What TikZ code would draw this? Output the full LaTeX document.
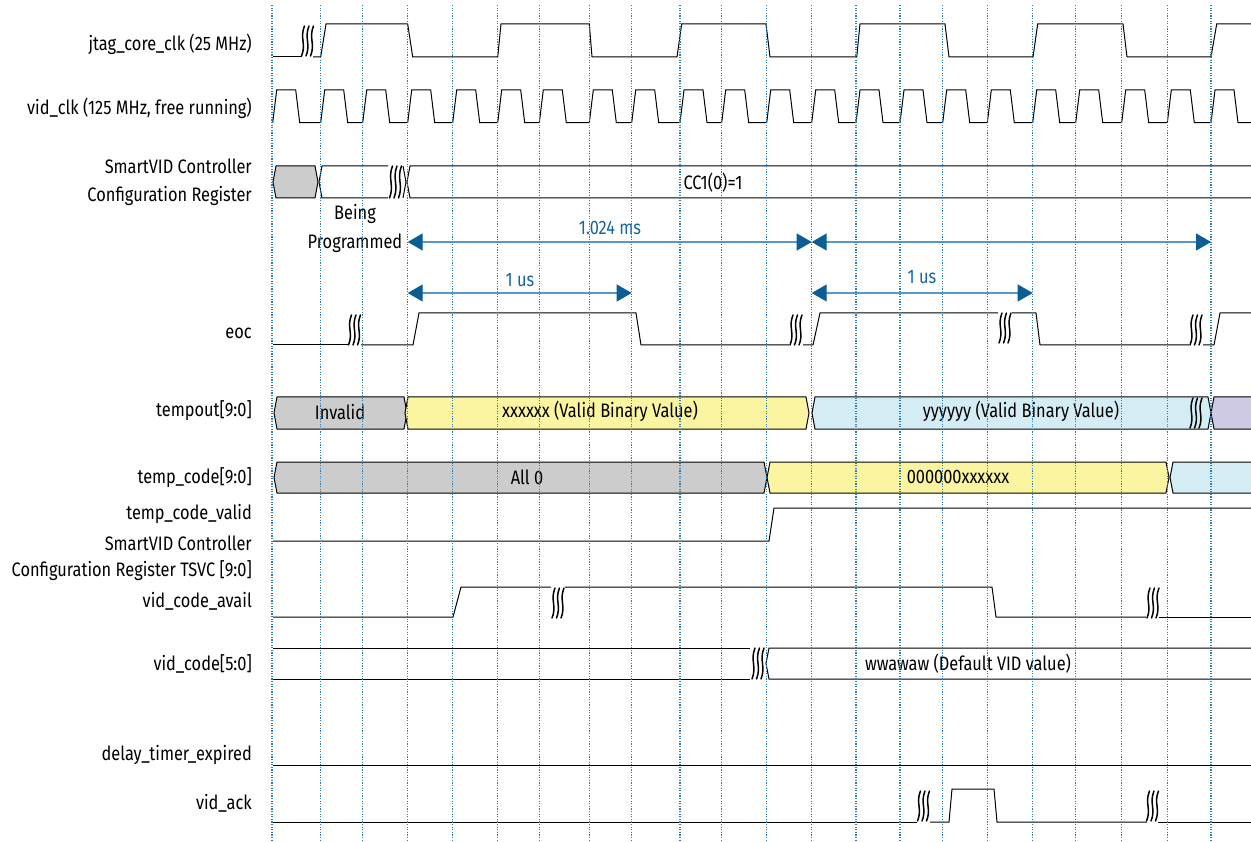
\documentclass[tikz,border=0pt]{standalone}
\usepackage{fontspec}
\setmainfont{Fira Sans}[FakeStretch=0.84]
\usetikzlibrary{arrows.meta}
\definecolor{gridblue}{HTML}{2E7DB3}
\definecolor{dimline}{HTML}{5A98C6}
\definecolor{dimhead}{HTML}{0B5E94}
\definecolor{dimtext}{HTML}{1565A0}
\definecolor{busgray}{HTML}{CCCCCC}
\definecolor{busyellow}{HTML}{FBF4A0}
\definecolor{busblue}{HTML}{D4EDF5}
\definecolor{buslav}{HTML}{CECAE6}
\tikzset{
 sig/.style={draw=black, line width=1pt, line join=miter},
 lbl/.style={anchor=east, inner sep=0pt, align=right, font=\fontsize{19.5}{28}\selectfont},
 txt/.style={inner sep=0pt, align=center, font=\fontsize{19.5}{29}\selectfont},
 dimarrow/.style={draw=dimline, line width=1.2pt, {Triangle[length=15pt,width=17pt,color=dimhead]}-{Triangle[length=15pt,width=17pt,color=dimhead]}},
 dimtxt/.style={txt, text=dimtext},
 gridl/.style={draw=gridblue, line width=1.3pt, dash pattern=on 1.3pt off 1.3pt},
 brkstroke/.style={draw=black, line width=1.5pt, line cap=round},
}
\newcommand\busseg[5]{\filldraw[sig, fill=#5] (#1,{(#3+#4)/2}) -- (#1+3,#3) -- (#2-3,#3) -- (#2,{(#3+#4)/2}) -- (#2-3,#4) -- (#1+3,#4) -- cycle;}
\newcommand\brk[3]{%
 \foreach \bo in {-4.5,0,4.5}{%
  \draw[brkstroke] ({#1+\bo+1.5},#2) .. controls ({#1+\bo-3.5},{#2+0.4*(#3-#2)}) and ({#1+\bo+3.5},{#2+0.6*(#3-#2)}) .. ({#1+\bo-1.5},#3);}}
\begin{document}
\begin{tikzpicture}[x=1pt,y=-1pt]
\useasboundingbox (0,0) rectangle (1251,842);
\clip (0,0) rectangle (1251,842);
% labels
\node[lbl] (l1) at (252,44) {jtag\_core\_clk (25 MHz)};
\node[lbl] (l2) at (252,108) {vid\_clk (125 MHz, free running)};
\node[lbl] (l3) at (252,182) {SmartVID Controller\\Configuration Register};
\node[lbl] (l4) at (252,333) {eoc};
\node[lbl] (l5) at (252,411) {tempout[9:0]};
\node[lbl] (l6) at (252,478) {temp\_code[9:0]};
\node[lbl] (l7) at (252,514) {temp\_code\_valid};
\node[lbl] (l8) at (252,543) {SmartVID Controller};
\node[lbl] (l9) at (252,571) {Configuration Register TSVC [9:0]};
\node[lbl] (l10) at (252,601) {vid\_code\_avail};
\node[lbl] (l11) at (252,664) {vid\_code[5:0]};
\node[lbl] (l12) at (252,755) {delay\_timer\_expired};
\node[lbl] (l13) at (252,803) {vid\_ack};
% jtag_core_clk
\draw[sig] (273,57) -- (302,57);
\draw[sig] (313,57) -- (320.7,57) -- (326,24) -- (407.7,24) -- (412.7,57) -- (497.7,57) -- (501,24) -- (589.3,24) -- (592,57) -- (677,57) -- (681.7,24) -- (766,24) -- (770,57) -- (856.7,57) -- (860,24) -- (945,24) -- (949,57) -- (1033,57) -- (1037.7,24) -- (1123,24) -- (1127,57) -- (1211,57) -- (1216.7,24) -- (1251,24);
\brk{307.5}{26}{56}
% vid_clk
\foreach \a/\b in {272.7/320.7, 320.7/362.7, 362.7/407.7, 407.7/452.7, 452.7/497.7, 497.7/539.3, 539.3/589.3, 589.3/631.7, 631.7/680, 680/721.7, 721.7/766.7, 766.7/811.7, 811.7/856, 856/900, 900/942.7, 942.7/987.3, 987.3/1032.7, 1032.7/1075.7, 1075.7/1121.7, 1121.7/1167.3, 1167.3/1211, 1211/1251}
  \draw[sig] (\a,122.7) -- (\a+4,90) -- (\a+23,90) -- (\a+27,122.7) -- (\b,122.7);
% configuration register
\busseg{273}{318}{166}{198}{busgray}
\draw[sig] (388,166) -- (322,166) -- (319,182) -- (322,198) -- (388,198);
\draw[sig] (403,166) -- (406,182) -- (403,198);
\draw[sig] (1251,166) -- (410,166) -- (407,182) -- (410,198) -- (1251,198);
\brk{395.5}{166}{198}
\node[txt] (cc) at (713,183) {CC1(0)=1};
\node[txt] (bp) at (355,228) {Being\\Programmed};
% dimension arrows
\coordinate (a1) at (407.7,242);
\coordinate (a2) at (811.7,242);
\coordinate (a3) at (1211,242);
\coordinate (b1) at (407.7,293);
\coordinate (b2) at (631.7,293);
\coordinate (b3) at (811.7,293);
\coordinate (b4) at (1032.7,293);
\draw[dimarrow] (a1) -- (a2);
\draw[dimarrow] (a2) -- (a3);
\draw[dimarrow] (b1) -- (b2);
\draw[dimarrow] (b3) -- (b4);
\node[dimtxt] (d1) at (610,228) {1.024 ms};
\node[dimtxt] (d2) at (520,280) {1 us};
\node[dimtxt] (d3) at (922,277) {1 us};
% eoc
\draw[sig] (273,345) -- (348,345);
\draw[sig] (361,345) -- (413,345) -- (419,313) -- (636,313) -- (641,345) -- (789,345);
\draw[sig] (803,345) -- (813,345) -- (820,313) -- (998,313);
\draw[sig] (1012,313) -- (1036,313) -- (1040,345) -- (1189,345);
\draw[sig] (1203,345) -- (1214,345) -- (1220,313) -- (1251,313);
\brk{354.5}{315}{345}
\brk{796}{315}{345}
\brk{1005}{313}{343}
\brk{1196}{315}{345}
% tempout
\busseg{274}{407}{397}{429}{busgray}
\busseg{405}{809}{397}{429}{busyellow}
\busseg{812}{1211}{397}{429}{busblue}
\busseg{1211}{1262}{397}{429}{buslav}
\brk{1196}{398}{428}
\node[txt] (t1) at (340,412) {Invalid};
\node[txt] (t2) at (600,411) {xxxxxx (Valid Binary Value)};
\node[txt] (t3) at (1021,411) {yyyyyy (Valid Binary Value)};
% temp_code
\busseg{274}{767}{462}{493}{busgray}
\busseg{767}{1169}{462}{493}{busyellow}
\busseg{1170}{1262}{462}{493}{busblue}
\node[txt] (c1) at (527,477) {All 0};
\node[txt] (c2) at (958,477) {000000xxxxxx};
% temp_code_valid
\draw[sig] (273,541) -- (769,541) -- (774,508) -- (1251,508);
% vid_code_avail
\draw[sig] (273,617) -- (453,617) -- (461,587) -- (551,587);
\draw[sig] (565,587) -- (992,587) -- (996,617) -- (1146,617);
\draw[sig] (1159,617) -- (1251,617);
\brk{558}{588}{618}
\brk{1153}{588}{618}
% vid_code
\draw[sig] (273,648) -- (750,648);
\draw[sig] (273,679) -- (750,679);
\draw[sig] (1251,648) -- (769,648) -- (766,663.5) -- (769,679) -- (1251,679);
\brk{758}{648}{679}
\node[txt] (v1) at (968,664) {wwawaw (Default VID value)};
% delay_timer_expired
\draw[sig] (273,765) -- (1251,765);
% vid_ack
\draw[sig] (273,822) -- (917,822);
\draw[sig] (930,822) -- (949,822) -- (952,789) -- (994,789) -- (997,822) -- (1147,822);
\draw[sig] (1158,822) -- (1251,822);
\brk{923.5}{791}{821}
\brk{1152.5}{791}{821}
% grid
\foreach \gx in {272.7, 320.7, 362.7, 407.7, 452.7, 497.7, 539.3, 589.3, 631.7, 680, 721.7, 766.7, 811.7, 856, 900, 942.7, 987.3, 1032.7, 1075.7, 1121.7, 1167.3, 1211}
  \draw[gridl] (\gx,5) -- (\gx,840);
\draw[gridl] (271.5,5) -- (271.5,840);
\end{tikzpicture}
\end{document}
